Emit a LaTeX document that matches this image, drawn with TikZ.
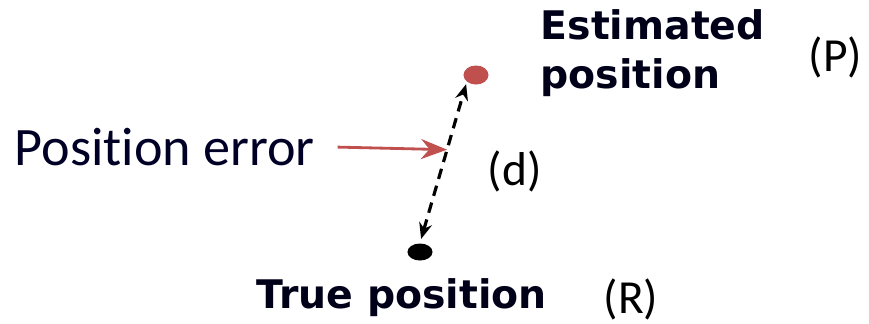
\documentclass[tikz,border=0pt]{standalone}
\usepackage{fontspec}
\setmainfont{Carlito}[Ligatures=NoCommon]
\newfontfamily\labelfont{DejaVu Sans}
\usetikzlibrary{arrows.meta,calc,positioning,shapes.geometric}
\definecolor{errred}{RGB}{192,80,77}
\tikzset{
  position dot/.style={ellipse,inner sep=0pt,draw=none},
  bold label/.style={font=\labelfont\bfseries\fontsize{11.2}{13.7}\selectfont,
    text=black!90!blue,anchor=base west,inner sep=0pt,align=left},
  tag label/.style={font=\fontsize{13.5}{16}\selectfont,anchor=base west,
    inner sep=0pt},
  distance edge/.style={{Stealth[length=1.6mm,width=1.3mm]}-{Stealth[length=1.6mm,width=1.3mm]},
    densely dashed,line width=0.9pt},
  pointer edge/.style={-{Stealth[length=2.6mm,width=2mm]},errred,line width=0.8pt}
}
\begin{document}
\begin{tikzpicture}[x=0.01cm,y=-0.01cm]
    \useasboundingbox (0,0) rectangle (869,323);
    \node[position dot,fill=errred,minimum width=0.25cm,minimum height=0.19cm]
      (estdot) at (476,75) {};
    \node[position dot,fill=black,minimum width=0.25cm,minimum height=0.17cm]
      (truedot) at (420,252) {};
    \draw[distance edge,shorten <=0.4mm,shorten >=0.2mm]
      (truedot.north) -- (estdot.south west);
    \coordinate (errtip) at ($(truedot.north)!0.58!(estdot.south west)$);
    \node[tag label,font=\fontsize{15.4}{16}\selectfont,text=black!85!blue]
      (errlabel) at (14,165) {Position error};
    \draw[pointer edge,shorten <=2.2mm] (errlabel.east) -- (errtip);
    \node[bold label] (estlabel) at (540,88) {Estimated\\position};
    \node[bold label] (truelabel) at (256,308) {True position};
    \node[tag label] (ptag) at (808,71) {(P)};
    \node[tag label] (dtag) at (487,185) {(d)};
    \node[tag label] (rtag) at (603,313) {(R)};
  \end{tikzpicture}
\end{document}
